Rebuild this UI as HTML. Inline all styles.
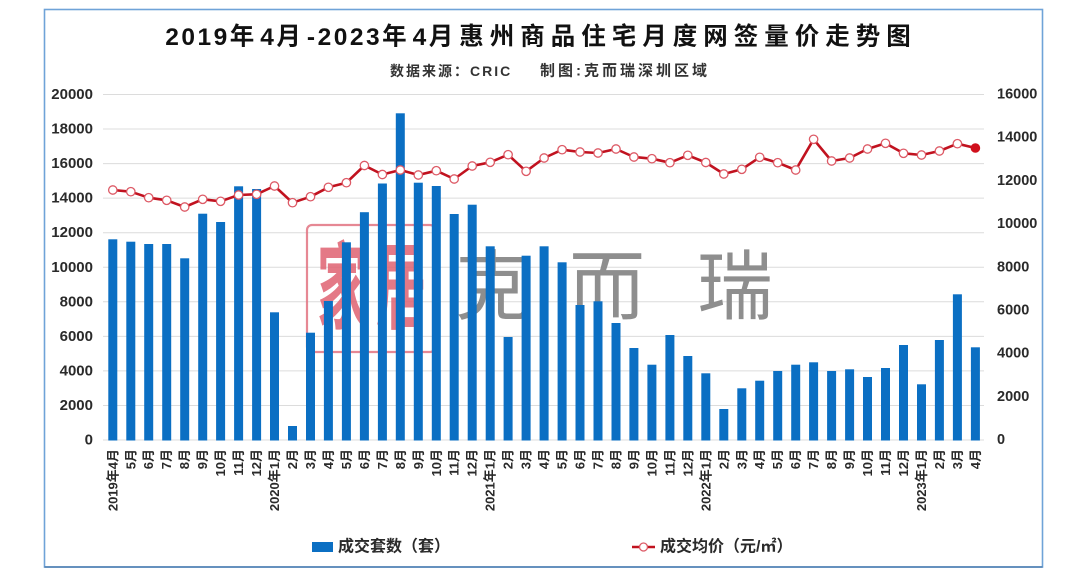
<!DOCTYPE html>
<html><head><meta charset="utf-8">
<style>
html,body{margin:0;padding:0;background:#fff;}
body{width:1080px;height:577px;overflow:hidden;}
svg{display:block;}
.cjk{font-family:"Liberation Sans","Noto Sans CJK SC",sans-serif;}
</style></head>
<body>
<svg width="1080" height="577" viewBox="0 0 1080 577" xmlns="http://www.w3.org/2000/svg">
<rect x="0" y="0" width="1080" height="577" fill="#fff"/>
<rect x="44.5" y="9.5" width="998" height="557.5" fill="#fff" stroke="#6fa3d8" stroke-width="1.6"/>
<line x1="44.5" y1="567" x2="1042.5" y2="567" stroke="#4f7fb0" stroke-width="1.6"/>

<!-- title -->
<text class="cjk" x="541" y="37" text-anchor="middle" dominant-baseline="central" font-size="24.5" font-weight="bold" fill="#111" style="letter-spacing:6px"><tspan style="letter-spacing:2.5px">2019</tspan>年<tspan style="letter-spacing:2.5px">4</tspan>月<tspan style="letter-spacing:2.5px">-2023</tspan>年<tspan style="letter-spacing:2.5px">4</tspan>月惠州商品住宅月度网签量价走势图</text>
<text class="cjk" x="390" y="71" dominant-baseline="central" font-size="14" font-weight="bold" fill="#333" style="letter-spacing:2px">数据来源：CRIC</text>
<text class="cjk" x="540" y="71" dominant-baseline="central" font-size="15" font-weight="bold" fill="#333" style="letter-spacing:3px">制图:克而瑞深圳区域</text>

<!-- grid -->
<g stroke="#dcdcdc" stroke-width="1">
<line x1="103" y1="440" x2="984" y2="440"/>
<line x1="103" y1="405.45" x2="984" y2="405.45"/>
<line x1="103" y1="370.9" x2="984" y2="370.9"/>
<line x1="103" y1="336.35" x2="984" y2="336.35"/>
<line x1="103" y1="301.8" x2="984" y2="301.8"/>
<line x1="103" y1="267.25" x2="984" y2="267.25"/>
<line x1="103" y1="232.7" x2="984" y2="232.7"/>
<line x1="103" y1="198.15" x2="984" y2="198.15"/>
<line x1="103" y1="163.6" x2="984" y2="163.6"/>
<line x1="103" y1="129.05" x2="984" y2="129.05"/>
<line x1="103" y1="94.5" x2="984" y2="94.5"/>
</g>

<!-- left axis labels -->
<g font-family="Liberation Sans, sans-serif" font-size="15" font-weight="bold" fill="#2a2a2a" text-anchor="end" dominant-baseline="central">
<text x="93" y="440">0</text>
<text x="93" y="405.45">2000</text>
<text x="93" y="370.9">4000</text>
<text x="93" y="336.35">6000</text>
<text x="93" y="301.8">8000</text>
<text x="93" y="267.25">10000</text>
<text x="93" y="232.7">12000</text>
<text x="93" y="198.15">14000</text>
<text x="93" y="163.6">16000</text>
<text x="93" y="129.05">18000</text>
<text x="93" y="94.5">20000</text>
</g>
<!-- right axis labels -->
<g font-family="Liberation Sans, sans-serif" font-size="14.5" font-weight="bold" fill="#2a2a2a" text-anchor="start" dominant-baseline="central">
<text x="997" y="440">0</text>
<text x="997" y="396.8">2000</text>
<text x="997" y="353.6">4000</text>
<text x="997" y="310.4">6000</text>
<text x="997" y="267.3">8000</text>
<text x="997" y="224.1">10000</text>
<text x="997" y="180.9">12000</text>
<text x="997" y="137.7">14000</text>
<text x="997" y="94.5">16000</text>
</g>

<!-- watermark -->
<g opacity="0.85">
<rect x="307" y="225" width="128" height="127" rx="5" fill="none" stroke="#e27482" stroke-width="2.2"/>
<text class="cjk" transform="translate(342,289) scale(1,1.9)" text-anchor="middle" dominant-baseline="central" font-size="50" font-weight="bold" fill="#e06272">家</text>
<text class="cjk" transform="translate(401,289) scale(1,1.9)" text-anchor="middle" dominant-baseline="central" font-size="50" font-weight="bold" fill="#e06272">居</text>
</g>
<g class="cjk" font-size="76" fill="#8e8e8e" text-anchor="middle" dominant-baseline="central">
<text x="493" y="288" class="cjk">克</text>
<text x="607" y="288" class="cjk">而</text>
<text x="735" y="288" class="cjk">瑞</text>
</g>

<!-- bars -->
<g fill="#0b6fc3">
<rect x="108.3" y="239.3" width="9" height="201.2"/>
<rect x="126.3" y="241.7" width="9" height="198.8"/>
<rect x="144.2" y="244" width="9" height="196.5"/>
<rect x="162.2" y="244" width="9" height="196.5"/>
<rect x="180.2" y="258.3" width="9" height="182.2"/>
<rect x="198.2" y="213.7" width="9" height="226.8"/>
<rect x="216.1" y="222" width="9" height="218.5"/>
<rect x="234.1" y="186.3" width="9" height="254.2"/>
<rect x="252.1" y="189" width="9" height="251.5"/>
<rect x="270" y="312.3" width="9" height="128.2"/>
<rect x="288" y="426" width="9" height="14.5"/>
<rect x="306" y="332.7" width="9" height="107.8"/>
<rect x="323.9" y="301" width="9" height="139.5"/>
<rect x="341.9" y="242.3" width="9" height="198.2"/>
<rect x="359.9" y="212.2" width="9" height="228.3"/>
<rect x="377.9" y="183.5" width="9" height="257"/>
<rect x="395.8" y="113.3" width="9" height="327.2"/>
<rect x="413.8" y="182.7" width="9" height="257.8"/>
<rect x="431.8" y="186" width="9" height="254.5"/>
<rect x="449.7" y="214" width="9" height="226.5"/>
<rect x="467.7" y="204.7" width="9" height="235.8"/>
<rect x="485.7" y="246.3" width="9" height="194.2"/>
<rect x="503.6" y="337" width="9" height="103.5"/>
<rect x="521.6" y="255.7" width="9" height="184.8"/>
<rect x="539.6" y="246.3" width="9" height="194.2"/>
<rect x="557.6" y="262.3" width="9" height="178.2"/>
<rect x="575.5" y="305" width="9" height="135.5"/>
<rect x="593.5" y="301.3" width="9" height="139.2"/>
<rect x="611.5" y="323" width="9" height="117.5"/>
<rect x="629.4" y="348" width="9" height="92.5"/>
<rect x="647.4" y="364.7" width="9" height="75.8"/>
<rect x="665.4" y="335" width="9" height="105.5"/>
<rect x="683.3" y="356" width="9" height="84.5"/>
<rect x="701.3" y="373.3" width="9" height="67.2"/>
<rect x="719.3" y="409" width="9" height="31.5"/>
<rect x="737.3" y="388.3" width="9" height="52.2"/>
<rect x="755.2" y="380.7" width="9" height="59.8"/>
<rect x="773.2" y="371" width="9" height="69.5"/>
<rect x="791.2" y="364.7" width="9" height="75.8"/>
<rect x="809.1" y="362.3" width="9" height="78.2"/>
<rect x="827.1" y="371" width="9" height="69.5"/>
<rect x="845.1" y="369.3" width="9" height="71.2"/>
<rect x="863" y="377" width="9" height="63.5"/>
<rect x="881" y="368" width="9" height="72.5"/>
<rect x="899" y="345" width="9" height="95.5"/>
<rect x="917" y="384.3" width="9" height="56.2"/>
<rect x="934.9" y="340" width="9" height="100.5"/>
<rect x="952.9" y="294.3" width="9" height="146.2"/>
<rect x="970.9" y="347.3" width="9" height="93.2"/>
</g>

<!-- price line -->
<polyline fill="none" stroke="#c1121f" stroke-width="2.6" stroke-linejoin="round" points="112.8,190 130.8,191.7 148.7,197.7 166.7,200.3 184.7,207 202.7,199.3 220.6,201.3 238.6,195 256.6,194.3 274.5,186 292.5,202.7 310.5,196.7 328.4,187.3 346.4,182.7 364.4,165.5 382.4,174.5 400.3,170 418.3,175 436.3,170.7 454.2,179 472.2,166 490.2,162.3 508.1,154.7 526.1,171.3 544.1,158 562.1,149.7 580,152 598,153 616,149 633.9,157 651.9,158.7 669.9,162.7 687.8,155.3 705.8,162.5 723.8,174 741.8,169.3 759.7,157.3 777.7,162.7 795.7,170 813.6,139.3 831.6,161 849.6,158 867.5,149 885.5,143.3 903.5,153.3 921.5,155 939.4,151 957.4,143.7 975.4,148"/>
<g fill="#fff" stroke="#dd5a66" stroke-width="1.3">
<circle cx="112.8" cy="190" r="4.2"/><circle cx="130.8" cy="191.7" r="4.2"/><circle cx="148.7" cy="197.7" r="4.2"/><circle cx="166.7" cy="200.3" r="4.2"/><circle cx="184.7" cy="207" r="4.2"/><circle cx="202.7" cy="199.3" r="4.2"/><circle cx="220.6" cy="201.3" r="4.2"/><circle cx="238.6" cy="195" r="4.2"/><circle cx="256.6" cy="194.3" r="4.2"/><circle cx="274.5" cy="186" r="4.2"/><circle cx="292.5" cy="202.7" r="4.2"/><circle cx="310.5" cy="196.7" r="4.2"/><circle cx="328.4" cy="187.3" r="4.2"/><circle cx="346.4" cy="182.7" r="4.2"/><circle cx="364.4" cy="165.5" r="4.2"/><circle cx="382.4" cy="174.5" r="4.2"/><circle cx="400.3" cy="170" r="4.2"/><circle cx="418.3" cy="175" r="4.2"/><circle cx="436.3" cy="170.7" r="4.2"/><circle cx="454.2" cy="179" r="4.2"/><circle cx="472.2" cy="166" r="4.2"/><circle cx="490.2" cy="162.3" r="4.2"/><circle cx="508.1" cy="154.7" r="4.2"/><circle cx="526.1" cy="171.3" r="4.2"/><circle cx="544.1" cy="158" r="4.2"/><circle cx="562.1" cy="149.7" r="4.2"/><circle cx="580" cy="152" r="4.2"/><circle cx="598" cy="153" r="4.2"/><circle cx="616" cy="149" r="4.2"/><circle cx="633.9" cy="157" r="4.2"/><circle cx="651.9" cy="158.7" r="4.2"/><circle cx="669.9" cy="162.7" r="4.2"/><circle cx="687.8" cy="155.3" r="4.2"/><circle cx="705.8" cy="162.5" r="4.2"/><circle cx="723.8" cy="174" r="4.2"/><circle cx="741.8" cy="169.3" r="4.2"/><circle cx="759.7" cy="157.3" r="4.2"/><circle cx="777.7" cy="162.7" r="4.2"/><circle cx="795.7" cy="170" r="4.2"/><circle cx="813.6" cy="139.3" r="4.2"/><circle cx="831.6" cy="161" r="4.2"/><circle cx="849.6" cy="158" r="4.2"/><circle cx="867.5" cy="149" r="4.2"/><circle cx="885.5" cy="143.3" r="4.2"/><circle cx="903.5" cy="153.3" r="4.2"/><circle cx="921.5" cy="155" r="4.2"/><circle cx="939.4" cy="151" r="4.2"/><circle cx="957.4" cy="143.7" r="4.2"/>
</g>
<circle cx="975.4" cy="148" r="4.3" fill="#d0101c" stroke="#d0101c" stroke-width="1"/>

<!-- x-axis labels -->
<g font-family="Liberation Sans, Noto Sans CJK SC, sans-serif" font-size="13" font-weight="bold" fill="#2a2a2a" text-anchor="end" dominant-baseline="central">
<text transform="translate(112.8,449) rotate(-90)">2019年4月</text>
<text transform="translate(130.8,449) rotate(-90)">5月</text>
<text transform="translate(148.7,449) rotate(-90)">6月</text>
<text transform="translate(166.7,449) rotate(-90)">7月</text>
<text transform="translate(184.7,449) rotate(-90)">8月</text>
<text transform="translate(202.7,449) rotate(-90)">9月</text>
<text transform="translate(220.6,449) rotate(-90)">10月</text>
<text transform="translate(238.6,449) rotate(-90)">11月</text>
<text transform="translate(256.6,449) rotate(-90)">12月</text>
<text transform="translate(274.5,449) rotate(-90)">2020年1月</text>
<text transform="translate(292.5,449) rotate(-90)">2月</text>
<text transform="translate(310.5,449) rotate(-90)">3月</text>
<text transform="translate(328.4,449) rotate(-90)">4月</text>
<text transform="translate(346.4,449) rotate(-90)">5月</text>
<text transform="translate(364.4,449) rotate(-90)">6月</text>
<text transform="translate(382.4,449) rotate(-90)">7月</text>
<text transform="translate(400.3,449) rotate(-90)">8月</text>
<text transform="translate(418.3,449) rotate(-90)">9月</text>
<text transform="translate(436.3,449) rotate(-90)">10月</text>
<text transform="translate(454.2,449) rotate(-90)">11月</text>
<text transform="translate(472.2,449) rotate(-90)">12月</text>
<text transform="translate(490.2,449) rotate(-90)">2021年1月</text>
<text transform="translate(508.1,449) rotate(-90)">2月</text>
<text transform="translate(526.1,449) rotate(-90)">3月</text>
<text transform="translate(544.1,449) rotate(-90)">4月</text>
<text transform="translate(562.1,449) rotate(-90)">5月</text>
<text transform="translate(580,449) rotate(-90)">6月</text>
<text transform="translate(598,449) rotate(-90)">7月</text>
<text transform="translate(616,449) rotate(-90)">8月</text>
<text transform="translate(633.9,449) rotate(-90)">9月</text>
<text transform="translate(651.9,449) rotate(-90)">10月</text>
<text transform="translate(669.9,449) rotate(-90)">11月</text>
<text transform="translate(687.8,449) rotate(-90)">12月</text>
<text transform="translate(705.8,449) rotate(-90)">2022年1月</text>
<text transform="translate(723.8,449) rotate(-90)">2月</text>
<text transform="translate(741.8,449) rotate(-90)">3月</text>
<text transform="translate(759.7,449) rotate(-90)">4月</text>
<text transform="translate(777.7,449) rotate(-90)">5月</text>
<text transform="translate(795.7,449) rotate(-90)">6月</text>
<text transform="translate(813.6,449) rotate(-90)">7月</text>
<text transform="translate(831.6,449) rotate(-90)">8月</text>
<text transform="translate(849.6,449) rotate(-90)">9月</text>
<text transform="translate(867.5,449) rotate(-90)">10月</text>
<text transform="translate(885.5,449) rotate(-90)">11月</text>
<text transform="translate(903.5,449) rotate(-90)">12月</text>
<text transform="translate(921.5,449) rotate(-90)">2023年1月</text>
<text transform="translate(939.4,449) rotate(-90)">2月</text>
<text transform="translate(957.4,449) rotate(-90)">3月</text>
<text transform="translate(975.4,449) rotate(-90)">4月</text>
</g>

<!-- legend -->
<rect x="312" y="542" width="21" height="10" fill="#0b6fc3"/>
<text class="cjk" x="338" y="547" dominant-baseline="central" font-size="16" font-weight="bold" fill="#2a2a2a">成交套数（套）</text>
<line x1="632" y1="547" x2="655" y2="547" stroke="#c1121f" stroke-width="2.6"/>
<circle cx="643.5" cy="547" r="4" fill="#fff" stroke="#dd5a66" stroke-width="1.3"/>
<text class="cjk" x="660" y="547" dominant-baseline="central" font-size="16" font-weight="bold" fill="#2a2a2a">成交均价（元/㎡）</text>
</svg>
</body></html>
